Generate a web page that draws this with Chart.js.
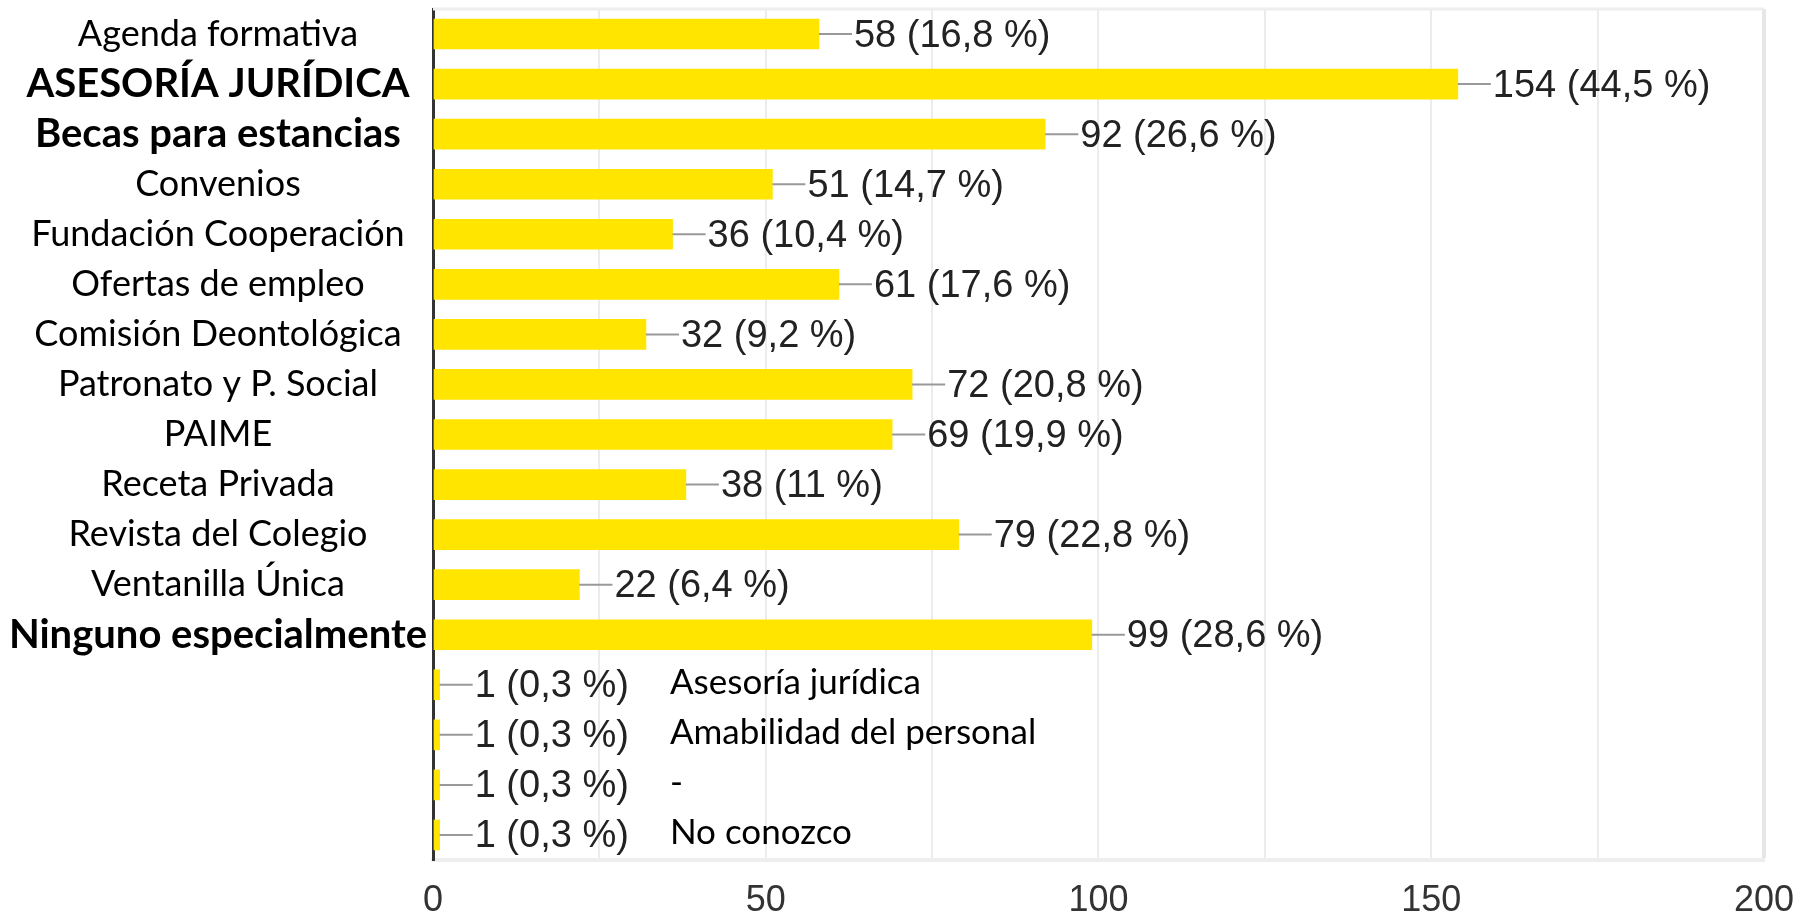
<!DOCTYPE html>
<html lang="es">
<head>
  <meta charset="UTF-8" />
  <title>Servicios del Colegio</title>
  <script src="https://cdn.jsdelivr.net/npm/chart.js"></script>
  <style>
    html, body { margin: 0; padding: 0; background: #fff; }
  </style>
</head>
<body>
  <canvas id="servicios" width="1813" height="919"></canvas>

  <script>
    const categorias = [
      'Agenda formativa', 'ASESORÍA JURÍDICA', 'Becas para estancias', 'Convenios',
      'Fundación Cooperación', 'Ofertas de empleo', 'Comisión Deontológica',
      'Patronato y P. Social', 'PAIME', 'Receta Privada', 'Revista del Colegio',
      'Ventanilla Única', 'Ninguno especialmente',
      'Asesoría jurídica', 'Amabilidad del personal', '-', 'No conozco'
    ];
    const respuestas = [58, 154, 92, 51, 36, 61, 32, 72, 69, 38, 79, 22, 99, 1, 1, 1, 1];
    const porcentajes = [16.8, 44.5, 26.6, 14.7, 10.4, 17.6, 9.2, 20.8, 19.9, 11, 22.8, 6.4, 28.6, 0.3, 0.3, 0.3, 0.3];
    const negritas = ['ASESORÍA JURÍDICA', 'Becas para estancias', 'Ninguno especialmente'];
    const primeraOtra = 13; // respuestas libres: su texto va dentro del gráfico
    const ticksEje = [0, 50, 100, 150, 200];

    const fuenteTexto = 'Lato, "Open Sans", sans-serif';
    const fuenteNumeros = '"Liberation Sans", Arial, sans-serif';

    // linea gris + "n (x %)" al final de cada barra
    const etiquetas = {
      id: 'etiquetas',
      afterDatasetsDraw(chart) {
        const ctx = chart.ctx;
        const barras = chart.getDatasetMeta(0).data;
        const escalaX = chart.scales.x;
        ctx.save();
        barras.forEach((barra, i) => {
          const x = barra.x;
          const y = barra.y;
          ctx.strokeStyle = '#999999';
          ctx.lineWidth = 2;
          ctx.beginPath();
          ctx.moveTo(x, y);
          ctx.lineTo(x + 33, y);
          ctx.stroke();

          ctx.fillStyle = '#222222';
          ctx.font = '38px ' + fuenteNumeros;
          ctx.textAlign = 'left';
          ctx.textBaseline = 'middle';
          const pct = String(porcentajes[i]).replace('.', ',');
          ctx.fillText(`${respuestas[i]} (${pct} %)`, x + 35, y + 2);

          if (i >= primeraOtra) {
            ctx.fillStyle = '#000000';
            ctx.font = '35px ' + fuenteTexto;
            ctx.fillText(categorias[i], escalaX.getPixelForValue(35.6), y - 2);
          }
        });
        ctx.restore();
      }
    };

    // borde superior del área del gráfico
    const bordeSuperior = {
      id: 'bordeSuperior',
      beforeDatasetsDraw(chart) {
        const { ctx, chartArea } = chart;
        ctx.save();
        ctx.strokeStyle = '#eeeeee';
        ctx.lineWidth = 3;
        ctx.beginPath();
        ctx.moveTo(chartArea.left, chartArea.top);
        ctx.lineTo(chartArea.right, chartArea.top);
        ctx.stroke();
        ctx.restore();
      }
    };

    new Chart(document.getElementById('servicios').getContext('2d'), {
      type: 'bar',
      data: {
        labels: categorias,
        datasets: [{
          data: respuestas,
          backgroundColor: '#ffe500',
          borderWidth: 0,
          barThickness: 30,
        }],
      },
      plugins: [bordeSuperior, etiquetas],
      options: {
        indexAxis: 'y',
        responsive: false,
        animation: false,
        layout: {
          padding: { top: 9, right: 48, left: 0, bottom: 0 },
        },
        plugins: {
          legend: { display: false },
          tooltip: { enabled: false },
        },
        scales: {
          x: {
            min: 0,
            max: 200,
            afterFit(escala) { escala.height = 59; },
            ticks: {
              stepSize: 25,
              autoSkip: false,
              maxRotation: 0,
              padding: 19,
              color: '#333333',
              font: { family: fuenteNumeros, size: 36 },
              callback: v => ticksEje.includes(v) ? v : '',
            },
            grid: {
              color: v => v.tick && v.tick.value === 200 ? '#e6e6e6' : '#ececec',
              lineWidth: v => v.tick && v.tick.value === 200 ? 4 : 2,
              drawTicks: false,
            },
            border: { color: '#eeeeee', width: 4 },
          },
          y: {
            afterFit(escala) {
              escala.width = 433;
              escala.paddingTop = 0;
              escala.paddingBottom = 0;
            },
            ticks: {
              autoSkip: false,
              crossAlign: 'center',
              padding: 6,
              color: '#000000',
              font: c => negritas.includes(categorias[c.index])
                ? { family: fuenteTexto, size: 40, weight: 'bold' }
                : { family: fuenteTexto, size: 36, weight: 'normal' },
              callback: (v, i) => i >= primeraOtra ? '' : categorias[i],
            },
            grid: { display: true, drawOnChartArea: false, drawTicks: false },
            border: { color: '#333333', width: 3 },
          },
        },
      },
    });
  </script>
</body>
</html>
